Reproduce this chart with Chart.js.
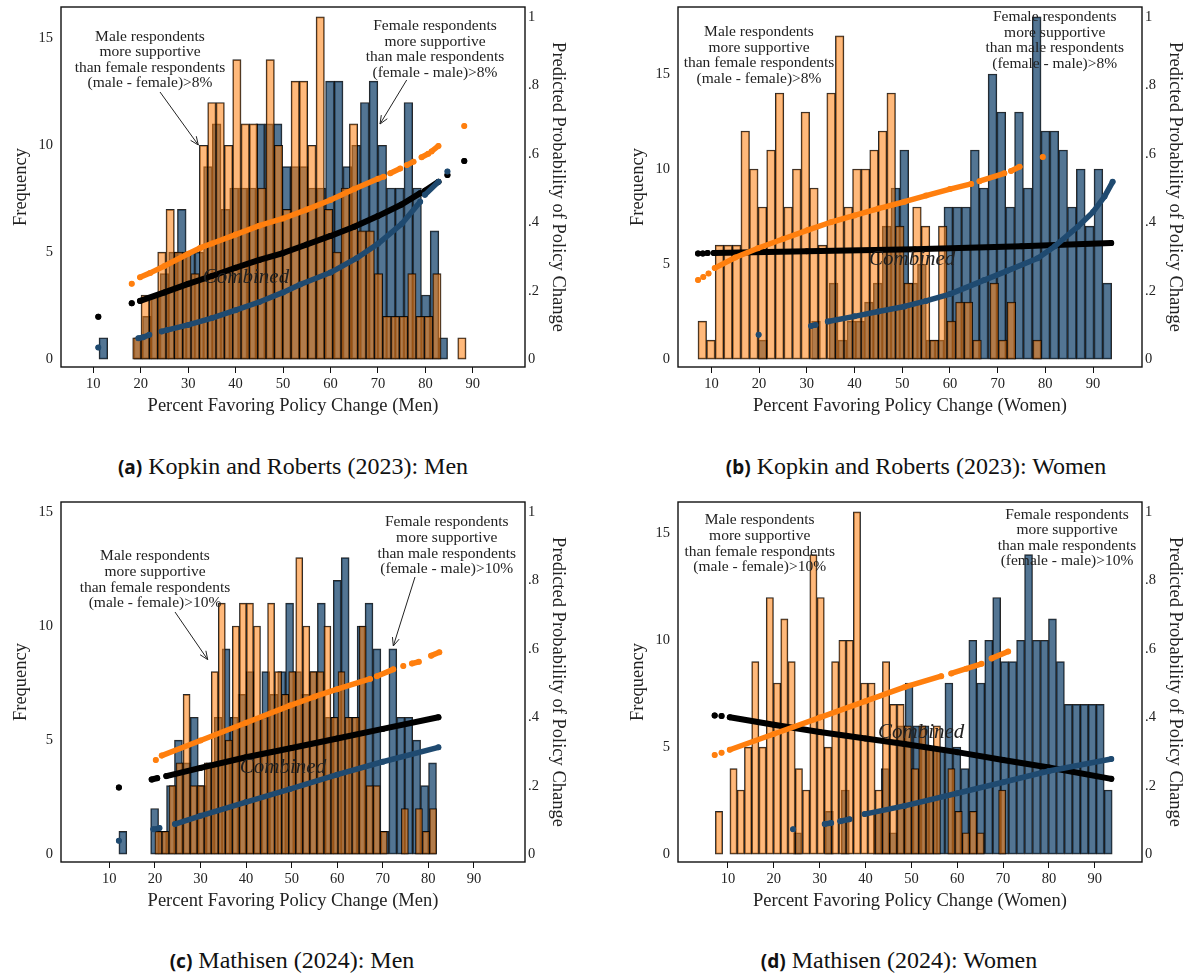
<!DOCTYPE html>
<html><head><meta charset="utf-8">
<script src="https://cdn.jsdelivr.net/npm/chart.js@4.4.1/dist/chart.umd.min.js"></script>
<style>
html,body{margin:0;padding:0;background:#fff;width:1190px;height:974px;overflow:hidden;position:relative;}
canvas{position:absolute;}
.cap{position:absolute;width:600px;text-align:center;font-family:"Liberation Serif",serif;font-size:24px;line-height:28px;color:#111;white-space:nowrap;}
.cap b{font-family:"Noto Sans",sans-serif;font-weight:700;font-size:19px;}
</style></head><body>
<canvas id="pa" width="572" height="430" style="left:0px;top:0px"></canvas>
<canvas id="pb" width="572" height="430" style="left:617px;top:0px"></canvas>
<canvas id="pc" width="572" height="430" style="left:0px;top:495px"></canvas>
<canvas id="pd" width="572" height="430" style="left:617px;top:495px"></canvas>
<div class="cap" style="left:-7px;top:452px"><b>(a)</b> Kopkin and Roberts (2023): Men</div>
<div class="cap" style="left:616px;top:452px"><b>(b)</b> Kopkin and Roberts (2023): Women</div>
<div class="cap" style="left:-8px;top:946px"><b>(c)</b> Mathisen (2024): Men</div>
<div class="cap" style="left:599px;top:946px"><b>(d)</b> Mathisen (2024): Women</div>
<script>
// ---------- shared axis ticks ----------
const X_TICKS = [10,20,30,40,50,60,70,80,90];
const FREQ_TICKS = [0,5,10,15];
const PROB_TICKS = [0,0.2,0.4,0.6,0.8,1];
const PROB_TICK_LABELS = ['0','.2','.4','.6','.8','1'];
const PROB_RANGE = [-0.023, 1.029];

// ---------- panel (a) Kopkin and Roberts (2023): Men ----------
const A_X_RANGE = [3.19, 101.0];
const A_FREQ_PER_PROB = 16;
const A_ORANGE_BIN_START = 18.3, A_ORANGE_BIN_WIDTH = 1.757;
const A_ORANGE_COUNTS = [1,3,3,5,7,5,5,4,10,12,12,10,14,11,11,8,14,10,7,13,13,10,16,7,5,8,11,6,6,4,2,2,2,4,2,2,4,0,0,1];
const A_BLUE_BIN_START = 11.2, A_BLUE_BIN_WIDTH = 1.837;
const A_BLUE_COUNTS = [1,0,0,0,1,2,3,4,5,7,5,5,9,11,7,8,8,8,11,11,11,9,9,9,8,8,13,13,9,10,12,13,10,8,8,12,8,3,6,1];
const A_ORANGE_FIT_X = [18.1,null,19.85,22,25,30,32.5,35,40,45,50,55,60,65,70,71.2,null,72.6,74.7,null,76.1,77.5,null,79.2,80.6,null,81.3,82.75,null,88.2];
const A_ORANGE_FIT_Y = [0.22,null,0.239,0.252,0.272,0.308,0.325,0.338,0.364,0.39,0.411,0.437,0.465,0.497,0.527,0.533,null,0.543,0.557,null,0.567,0.577,null,0.59,0.60,null,0.607,0.623,null,0.681];
const A_BLACK_FIT_X = [11.05,null,18.1,null,19.85,25,30,35,40,45,50,55,60,65,70,75,78.9,null,79.9,82.75,null,84.65,null,88.2];
const A_BLACK_FIT_Y = [0.124,null,0.163,null,0.17,0.195,0.22,0.243,0.267,0.29,0.31,0.335,0.36,0.387,0.418,0.452,0.485,null,0.492,0.518,null,0.538,null,0.579];
const A_BLUE_FIT_X = [11.05,null,19.5,20.5,21.8,null,24.4,25.5,30,35,40,45,50,53.6,60,65.5,70,75,78.9,null,79.9,82.75,null,84.65];
const A_BLUE_FIT_Y = [0.034,null,0.061,0.064,0.071,null,0.081,0.085,0.10,0.12,0.143,0.167,0.195,0.218,0.253,0.295,0.337,0.395,0.46,null,0.48,0.518,null,0.548];

// ---------- panel (b) Kopkin and Roberts (2023): Women ----------
const B_X_RANGE = [3.0, 100.26];
const B_FREQ_PER_PROB = 18;
const B_ORANGE_BIN_START = 7.19, B_ORANGE_BIN_WIDTH = 1.8;
const B_ORANGE_COUNTS = [2,1,6,6,6,12,10,8,11,14,8,10,13,9,6,14,17,8,10,10,11,12,14,7,4,8,7,1,7,2,3,3,1,0,4,1,3,0,0,1];
const B_BLUE_BIN_START = 19.9, B_BLUE_BIN_WIDTH = 1.85;
const B_BLUE_COUNTS = [1,0,0,0,0,0,2,0,4,1,2,2,3,4,7,9,11,4,5,1,1,8,8,8,11,9,15,13,8,13,9,18,12,12,11,8,10,7,10,4];
const B_ORANGE_FIT_X = [7.2,null,8.3,null,9.4,null,10.7,15,19.75,25,30.2,35,40,45,50.5,55,60,64.45,null,66.2,71.4,null,72.8,74.6,null,79.45];
const B_ORANGE_FIT_Y = [0.231,null,0.24,null,0.25,null,0.266,0.297,0.324,0.351,0.377,0.40,0.42,0.44,0.46,0.478,0.497,0.512,null,0.52,0.543,null,0.55,0.562,null,0.591];
const B_BLACK_FIT_X = [7.2,null,8.2,null,9.2,null,10.5,30,52.6,75,93.8];
const B_BLACK_FIT_Y = [0.309,null,0.309,null,0.31,null,0.31,0.315,0.321,0.33,0.339];
const B_BLUE_FIT_X = [19.9,null,30.9,31.8,null,34.4,40,45,50.5,55,60,67.2,72,78.4,82,86.8,90,92.4,94.1];
const B_BLUE_FIT_Y = [0.071,null,0.097,0.1,null,0.11,0.125,0.139,0.154,0.17,0.19,0.231,0.258,0.295,0.33,0.387,0.43,0.475,0.518];

// ---------- panel (c) Mathisen (2024): Men ----------
const C_X_RANGE = [-0.6, 101.2];
const C_FREQ_PER_PROB = 15;
const C_ORANGE_BIN_START = 20.0, C_ORANGE_BIN_WIDTH = 1.545;
const C_ORANGE_COUNTS = [1,1,3,4,7,3,3,4,8,11,5,10,11,11,10,6,11,8,7,8,13,10,8,8,10,6,8,6,6,10,3,3,1,0,0,2,0,2,1,2];
const C_BLUE_BIN_START = 12.1, C_BLUE_BIN_WIDTH = 1.742;
const C_BLUE_COUNTS = [1,0,0,0,2,1,3,5,4,6,3,4,6,9,6,7,8,6,8,7,8,11,8,7,8,11,6,12,13,6,10,11,9,1,9,6,6,5,3,4];
const C_ORANGE_FIT_X = [20.2,null,21.5,30,40,49.6,55,60,67.2,null,68.7,72.3,null,74.5,null,76.4,77.9,null,80.6,82.4];
const C_ORANGE_FIT_Y = [0.275,null,0.288,0.332,0.384,0.434,0.46,0.482,0.512,null,0.52,0.54,null,0.55,null,0.557,0.562,null,0.58,0.59];
const C_BLACK_FIT_X = [12.1,null,19.3,20.5,null,22.5,30,40,50,60,70,82.2];
const C_BLACK_FIT_Y = [0.195,null,0.218,0.222,null,0.228,0.252,0.283,0.31,0.338,0.366,0.40];
const C_BLUE_FIT_X = [12.1,null,19.65,21,null,24.4,30,40,49.6,60,70,82.2];
const C_BLUE_FIT_Y = [0.039,null,0.073,0.076,null,0.088,0.112,0.152,0.19,0.232,0.27,0.312];

// ---------- panel (d) Mathisen (2024): Women ----------
const D_X_RANGE = [-0.9, 100.3];
const D_FREQ_PER_PROB = 16;
const D_ORANGE_BIN_START = 7.25, D_ORANGE_BIN_WIDTH = 1.584;
const D_ORANGE_COUNTS = [2,0,4,3,5,9,5,12,8,11,9,4,3,14,12,5,9,10,10,16,8,8,3,9,7,7,6,4,6,5,6,0,4,2,1,2,1,0,0,3];
const D_BLUE_BIN_START = 24.3, D_BLUE_BIN_WIDTH = 1.7375;
const D_BLUE_COUNTS = [1,0,0,0,2,0,3,0,0,0,2,4,1,6,8,6,6,5,5,8,5,4,10,8,10,12,9,9,10,14,10,10,11,9,7,7,7,7,7,3];
const D_ORANGE_FIT_X = [7.1,null,8.6,null,10.4,20,30,40,48.5,56.5,null,58.7,62,65.3,null,67.5,71.1];
const D_ORANGE_FIT_Y = [0.29,null,0.296,null,0.305,0.351,0.399,0.447,0.488,0.52,null,0.528,0.542,0.556,null,0.572,0.592];
const D_BLACK_FIT_X = [7.1,null,8.6,null,10.4,20,30,40,48.5,60,70,80,93.6];
const D_BLACK_FIT_Y = [0.405,null,0.404,null,0.40,0.378,0.357,0.338,0.322,0.298,0.275,0.253,0.22];
const D_BLUE_FIT_X = [24.2,null,31.1,32.5,null,34.5,36.5,null,39.8,48.5,60,70,80,93.6];
const D_BLUE_FIT_Y = [0.073,null,0.088,0.091,null,0.096,0.102,null,0.117,0.141,0.178,0.21,0.243,0.278];

// ---------- annotation texts ----------
const MALE_NOTE_8 = ['Male respondents','more supportive','than female respondents','(male - female)>8%'];
const FEMALE_NOTE_8 = ['Female respondents','more supportive','than male respondents','(female - male)>8%'];
const MALE_NOTE_10 = ['Male respondents','more supportive','than female respondents','(male - female)>10%'];
const FEMALE_NOTE_10 = ['Female respondents','more supportive','than male respondents','(female - male)>10%'];

const SERIF = '"Liberation Serif", "Times New Roman", serif';
Chart.defaults.font.family = SERIF;
Chart.defaults.color = '#222';

const PLOT_W = 464; // chart-area width in px (572 - 61 - 47)

function bins(start, width, counts) {
  return counts.map((c, i) => ({x: start + (i + 0.5) * width, y: c > 0 ? c : null}));
}
function pts(xs, ys) {
  return xs.map((x, i) => ({x: x === null ? xs[i - 1] : x, y: ys[i]}));
}

const decor = {
  id: 'decor',
  afterDatasetsDraw(chart, args, o) {
    const {ctx, chartArea: a} = chart;
    ctx.save();
    ctx.fillStyle = '#222';
    ctx.textAlign = 'center';
    ctx.textBaseline = 'middle';
    ctx.font = '15.5px ' + SERIF;
    (o.notes || []).forEach(n => n.lines.forEach((t, i) => ctx.fillText(t, a.left + n.x, a.top + n.y + i * n.dy)));
    ctx.strokeStyle = '#222';
    ctx.lineWidth = 1;
    (o.arrows || []).forEach(([x1, y1, x2, y2]) => {
      const X1 = a.left + x1, Y1 = a.top + y1, X2 = a.left + x2, Y2 = a.top + y2;
      const th = Math.atan2(Y2 - Y1, X2 - X1);
      ctx.beginPath();
      ctx.moveTo(X1, Y1); ctx.lineTo(X2, Y2);
      ctx.moveTo(X2 - 9 * Math.cos(th - 0.4), Y2 - 9 * Math.sin(th - 0.4));
      ctx.lineTo(X2, Y2);
      ctx.lineTo(X2 - 9 * Math.cos(th + 0.4), Y2 - 9 * Math.sin(th + 0.4));
      ctx.stroke();
    });
    ctx.font = 'italic 21px ' + SERIF;
    ctx.fillText('Combined', a.left + o.combined.x, a.top + o.combined.y);
    ctx.strokeStyle = '#111';
    ctx.lineWidth = 1.4;
    ctx.strokeRect(a.left, a.top, a.right - a.left, a.bottom - a.top);
    ctx.restore();
  }
};

function lineSet(data, color, order, width) {
  return {type: 'line', data, borderColor: color, backgroundColor: color, pointBackgroundColor: color,
    pointBorderWidth: 0, pointRadius: 3, pointHoverRadius: 0, borderWidth: width, borderCapStyle: 'round',
    borderJoinStyle: 'round', spanGaps: false, fill: false, tension: 0, xAxisID: 'x', yAxisID: 'yR', order};
}

function makePanel(id, p) {
  const fix = vals => s => { s.ticks = vals.map(v => ({value: v})); };
  const pxPerUnit = PLOT_W / (p.xRange[1] - p.xRange[0]);
  const noPad = s => { s.paddingTop = 0; s.paddingBottom = 0; s.paddingLeft = 0; s.paddingRight = 0; };
  new Chart(document.getElementById(id), {
    type: 'bar',
    data: {datasets: [
      lineSet(pts(p.oFitX, p.oFitY), '#ff7f0e', 0, 5.5),
      lineSet(pts(p.bFitX, p.bFitY), '#1f4a70', 1, 5.5),
      lineSet(pts(p.kFitX, p.kFitY), '#000000', 2, 6),
      {type: 'bar', data: bins(p.oStart, p.oWidth, p.oCounts), backgroundColor: 'rgba(255,127,14,0.55)',
        borderColor: 'rgba(0,0,0,0.85)', borderWidth: 1, borderSkipped: false,
        barThickness: p.oWidth * pxPerUnit, grouped: false, xAxisID: 'x', yAxisID: 'yL', order: 5},
      {type: 'bar', data: bins(p.bStart, p.bWidth, p.bCounts), backgroundColor: 'rgba(26,71,111,0.75)',
        borderColor: 'rgba(0,0,0,0.85)', borderWidth: 1, borderSkipped: false,
        barThickness: p.bWidth * pxPerUnit, grouped: false, xAxisID: 'x2', yAxisID: 'yL', order: 6}
    ]},
    options: {
      responsive: false, animation: false, events: [],
      layout: {padding: {top: 7, left: 0, right: 0, bottom: 0}},
      plugins: {legend: {display: false}, tooltip: {enabled: false},
        decor: {notes: p.notes, arrows: p.arrows, combined: p.combined}},
      scales: {
        x: {type: 'linear', position: 'bottom', offset: false, min: p.xRange[0], max: p.xRange[1],
          afterBuildTicks: fix(X_TICKS), afterFit: s => { s.height = 63; noPad(s); },
          grid: {display: true, offset: false, drawOnChartArea: false, drawTicks: true, tickLength: 6, color: '#111', lineWidth: 1},
          border: {display: false},
          ticks: {font: {size: 14.5}, color: '#222', padding: 2, maxRotation: 0, autoSkip: false},
          title: {display: true, text: p.xTitle, font: {size: 18.5}, color: '#222', padding: {top: 0, bottom: 12.8}}},
        x2: {type: 'linear', position: 'bottom', display: false, offset: false, min: p.xRange[0], max: p.xRange[1],
          afterBuildTicks: fix(X_TICKS), afterFit: noPad, grid: {offset: false}},
        yL: {type: 'linear', position: 'left', min: PROB_RANGE[0] * p.fpp, max: PROB_RANGE[1] * p.fpp,
          afterBuildTicks: fix(FREQ_TICKS), afterFit: s => { s.width = 61; noPad(s); },
          grid: {display: false, drawTicks: false}, border: {display: false},
          ticks: {font: {size: 14.5}, color: '#222', padding: 8},
          title: {display: true, text: 'Frequency', font: {size: 18.5}, color: '#222', padding: {top: 9.8, bottom: 0}}},
        yR: {type: 'linear', position: 'right', min: PROB_RANGE[0], max: PROB_RANGE[1],
          afterBuildTicks: fix(PROB_TICKS), afterFit: s => { s.width = 47; noPad(s); },
          grid: {display: false, drawTicks: false}, border: {display: false},
          ticks: {font: {size: 14.5}, color: '#222', padding: 3,
            callback: (v, i) => PROB_TICK_LABELS[PROB_TICKS.indexOf(v)] ?? PROB_TICK_LABELS[i]},
          title: {display: true, text: 'Predicted Probability of Policy Change', font: {size: 18.5}, color: '#222',
            padding: {top: 3.5, bottom: 0}}}
      }
    },
    plugins: [decor]
  });
}

makePanel('pa', {
  xRange: A_X_RANGE, fpp: A_FREQ_PER_PROB, xTitle: 'Percent Favoring Policy Change (Men)',
  oStart: A_ORANGE_BIN_START, oWidth: A_ORANGE_BIN_WIDTH, oCounts: A_ORANGE_COUNTS,
  bStart: A_BLUE_BIN_START, bWidth: A_BLUE_BIN_WIDTH, bCounts: A_BLUE_COUNTS,
  oFitX: A_ORANGE_FIT_X, oFitY: A_ORANGE_FIT_Y, kFitX: A_BLACK_FIT_X, kFitY: A_BLACK_FIT_Y,
  bFitX: A_BLUE_FIT_X, bFitY: A_BLUE_FIT_Y,
  notes: [{x: 89, y: 30, dy: 15.3, lines: MALE_NOTE_8}, {x: 374, y: 19, dy: 15.6, lines: FEMALE_NOTE_8}],
  arrows: [[99, 85, 137.3, 138], [345.7, 73, 319, 117]],
  combined: {x: 185, y: 270}
});
makePanel('pb', {
  xRange: B_X_RANGE, fpp: B_FREQ_PER_PROB, xTitle: 'Percent Favoring Policy Change (Women)',
  oStart: B_ORANGE_BIN_START, oWidth: B_ORANGE_BIN_WIDTH, oCounts: B_ORANGE_COUNTS,
  bStart: B_BLUE_BIN_START, bWidth: B_BLUE_BIN_WIDTH, bCounts: B_BLUE_COUNTS,
  oFitX: B_ORANGE_FIT_X, oFitY: B_ORANGE_FIT_Y, kFitX: B_BLACK_FIT_X, kFitY: B_BLACK_FIT_Y,
  bFitX: B_BLUE_FIT_X, bFitY: B_BLUE_FIT_Y,
  notes: [{x: 81, y: 25, dy: 15.6, lines: MALE_NOTE_8}, {x: 376.7, y: 10, dy: 15.5, lines: FEMALE_NOTE_8}],
  arrows: [],
  combined: {x: 234.2, y: 252}
});
makePanel('pc', {
  xRange: C_X_RANGE, fpp: C_FREQ_PER_PROB, xTitle: 'Percent Favoring Policy Change (Men)',
  oStart: C_ORANGE_BIN_START, oWidth: C_ORANGE_BIN_WIDTH, oCounts: C_ORANGE_COUNTS,
  bStart: C_BLUE_BIN_START, bWidth: C_BLUE_BIN_WIDTH, bCounts: C_BLUE_COUNTS,
  oFitX: C_ORANGE_FIT_X, oFitY: C_ORANGE_FIT_Y, kFitX: C_BLACK_FIT_X, kFitY: C_BLACK_FIT_Y,
  bFitX: C_BLUE_FIT_X, bFitY: C_BLUE_FIT_Y,
  notes: [{x: 94, y: 54.3, dy: 15.7, lines: MALE_NOTE_10}, {x: 385.7, y: 20, dy: 15.8, lines: FEMALE_NOTE_10}],
  arrows: [[114, 110, 146.7, 157.6], [354, 75, 332.3, 144]],
  combined: {x: 222, y: 265.3}
});
makePanel('pd', {
  xRange: D_X_RANGE, fpp: D_FREQ_PER_PROB, xTitle: 'Percent Favoring Policy Change (Women)',
  oStart: D_ORANGE_BIN_START, oWidth: D_ORANGE_BIN_WIDTH, oCounts: D_ORANGE_COUNTS,
  bStart: D_BLUE_BIN_START, bWidth: D_BLUE_BIN_WIDTH, bCounts: D_BLUE_COUNTS,
  oFitX: D_ORANGE_FIT_X, oFitY: D_ORANGE_FIT_Y, kFitX: D_BLACK_FIT_X, kFitY: D_BLACK_FIT_Y,
  bFitX: D_BLUE_FIT_X, bFitY: D_BLUE_FIT_Y,
  notes: [{x: 81.7, y: 18.3, dy: 15.6, lines: MALE_NOTE_10}, {x: 389, y: 12.6, dy: 15.5, lines: FEMALE_NOTE_10}],
  arrows: [],
  combined: {x: 243.2, y: 230.3}
});
</script>
</body></html>
